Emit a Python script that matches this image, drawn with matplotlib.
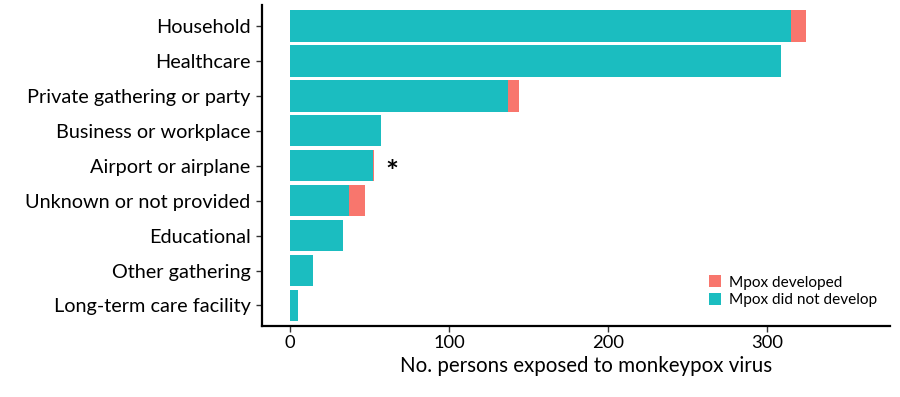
import matplotlib
matplotlib.use("Agg")
import matplotlib.pyplot as plt
from matplotlib.patches import Patch

categories = ["Household", "Healthcare", "Private gathering or party",
              "Business or workplace", "Airport or airplane",
              "Unknown or not provided", "Educational", "Other gathering",
              "Long-term care facility"]
not_developed = [315, 309, 137, 57, 52, 37, 33, 14, 5]
developed = [10, 0, 7, 0, 1, 10, 0, 0, 0]
tick_values = [0, 100, 200, 300]

TEAL = "#1BBDC0"
RED = "#F8766D"
FONT = "Lato"

plt.rcParams["font.family"] = [FONT, "DejaVu Sans"]

fig = plt.figure(figsize=(9, 3.97), dpi=100)
ax = fig.add_axes([262/900, 1-325.7/397, (890-262)/900, (325.7-5)/397])

y = list(range(len(categories)))
ax.barh(y, not_developed, height=0.9, color=TEAL, linewidth=0)
ax.barh(y, developed, left=not_developed, height=0.9, color=RED, linewidth=0)

# asterisk next to airport bar
ai = categories.index("Airport or airplane")
ax.annotate("*", xy=(not_developed[ai] + developed[ai], ai), xytext=(12.6, -11.5),
            textcoords="offset points", ha="center", va="baseline",
            fontsize=22, fontweight="bold", color="black")

ax.set_yticks(y)
ax.set_yticklabels(categories, fontsize=14.3)
ax.set_xticks(tick_values)
ax.set_xticklabels([str(v) for v in tick_values], fontsize=13.2)
ax.set_xlim(-17.8, 377.6)
ax.set_ylim(8.58, -0.6)

for s in ["top", "right"]:
    ax.spines[s].set_visible(False)
for s in ["left", "bottom"]:
    ax.spines[s].set_linewidth(1.6)
    ax.spines[s].set_color("black")
ax.tick_params(axis="both", length=4, width=1.0, color="#333333", colors="black")
ax.tick_params(axis="y", pad=4.2)
ax.tick_params(axis="x", pad=3)

fig.text(586/900, 1-366/397, "No. persons exposed to monkeypox virus",
         ha="center", va="center", fontsize=14.8)

handles = [Patch(facecolor=RED, edgecolor="none", label="Mpox developed"),
           Patch(facecolor=TEAL, edgecolor="none", label="Mpox did not develop")]
leg = ax.legend(handles=handles, loc="lower left",
                bbox_to_anchor=(709/900, 1-307/397), bbox_transform=fig.transFigure,
                frameon=False, fontsize=11.1, handlelength=0.8, handleheight=0.8,
                handletextpad=0.5, labelspacing=0.2, borderpad=0, borderaxespad=0)

fig.savefig("out.png", dpi=100)
